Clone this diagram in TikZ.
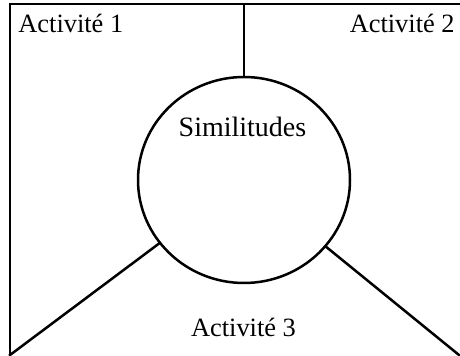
\documentclass[tikz,border=0pt]{standalone}
\usepackage{fontspec}
\setmainfont{Liberation Serif}
\usetikzlibrary{shapes.geometric}
\begin{document}
\begin{tikzpicture}[x=0.5pt,y=-0.5pt,
  line/.style={line width=1.25pt, line cap=rect},
  lbl/.style={inner sep=0pt, font=\fontsize{13.2}{15}\selectfont},
  hub/.style={draw, line width=1.25pt, ellipse, minimum width=106pt, minimum height=103pt, inner sep=0pt}]
  \useasboundingbox (0,0) rectangle (460,356);
  \coordinate (tl) at (10,4);
  \coordinate (tr) at (462,4);
  \coordinate (bl) at (10,355);
  \coordinate (br) at (459,355);
  \coordinate (tm) at (244,4);
  \node[hub] (c) at (244,180) {};
  \draw[line] (bl) -- (tl) -- (tr);
  \draw[line] (tm) -- (c.north);
  \draw[line] (c) -- (bl);
  \draw[line] (c) -- (br);
  \node[lbl, anchor=base west] (a1) at (18,33) {Activité 1};
  \node[lbl, anchor=base east] (a2) at (455,33) {Activité 2};
  \node[lbl, anchor=base] (a3) at (243.5,337) {Activité 3};
  \node[lbl, anchor=base, font=\fontsize{14}{16}\selectfont] (s) at (242.5,137) {Similitudes};
\end{tikzpicture}
\end{document}
